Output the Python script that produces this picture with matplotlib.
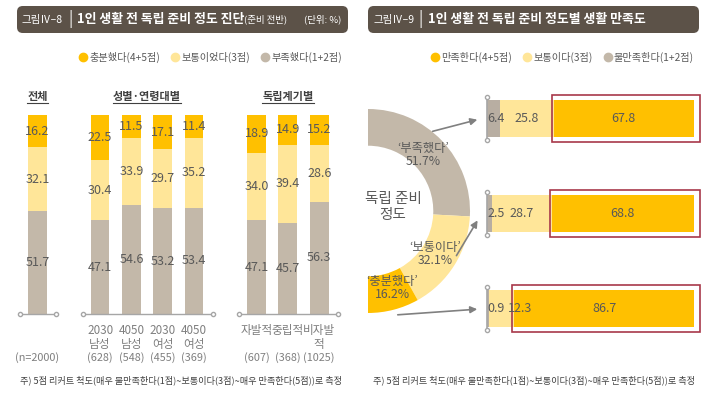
import numpy as np
import matplotlib
matplotlib.use("Agg")
import matplotlib.pyplot as plt
from matplotlib.patches import FancyBboxPatch, Rectangle
from matplotlib.lines import Line2D

plt.rcParams['font.family'] = ['Noto Sans CJK KR', 'DejaVu Sans']

# ---- data: left chart (준비 정도 진단) ----
bar_pos = [0, 2, 3, 4, 5, 7, 8, 9]
bar_cat = ["", "2030\n남성", "4050\n남성", "2030\n여성", "4050\n여성", "자발적", "중립적", "비자발\n적"]
bar_n = ["(n=2000)", "(628)", "(548)", "(455)", "(369)", "(607)", "(368)", "(1025)"]
lack = [51.7, 47.1, 54.6, 53.2, 53.4, 47.1, 45.7, 56.3]      # 부족했다(1+2점)
normal = [32.1, 30.4, 33.9, 29.7, 35.2, 34.0, 39.4, 28.6]    # 보통이었다(3점)
enough = [16.2, 22.5, 11.5, 17.1, 11.4, 18.9, 14.9, 15.2]    # 충분했다(4+5점)
groups = [("전체", [0]), ("성별·연령대별", [2, 3, 4, 5]), ("독립계기별", [7, 8, 9])]

# ---- data: right chart (준비 정도별 생활 만족도) ----
donut_lab = ["‘부족했다’", "‘보통이다’", "‘충분했다’"]
donut_val = [51.7, 32.1, 16.2]
sat_bad = [6.4, 2.5, 0.9]       # 불만족한다(1+2점)
sat_mid = [25.8, 28.7, 12.3]    # 보통이다(3점)
sat_good = [67.8, 68.8, 86.7]   # 만족한다(4+5점)

ORANGE = "#FFC000"
LIGHT = "#FFE699"
GRAY = "#C3B8A9"
TXT = "#595959"
W, H = 720, 398

fig = plt.figure(figsize=(7.2, 3.98), dpi=100)


def fx(px):
    return px / W


def fy(py):
    return 1 - py / H


# ---- title boxes ----
def title_box(x0, x1, main, extra=None, unit=None):
    box = FancyBboxPatch((fx(x0), fy(33)), fx(x1 - x0), 27 / H,
                         boxstyle="round,pad=0,rounding_size=0.008",
                         mutation_aspect=W / H, transform=fig.transFigure,
                         fc="#5C5248", ec="none")
    fig.patches.append(box)
    yc = fy(19.5)
    fig.text(fx(x0 + 5), yc, main[0], color="white", fontsize=7.5, ha="left", va="center")
    fig.text(fx(x0 + 53), yc, "|", color="white", fontsize=11, ha="center", va="center")
    t = fig.text(fx(x0 + 60), yc, main[1], color="white", fontsize=9.3,
                 fontweight="bold", ha="left", va="center")
    if extra:
        fig.canvas.draw()
        bb = t.get_window_extent(renderer=fig.canvas.get_renderer())
        fig.text(bb.x1 / W, yc, extra, color="white", fontsize=6.8, ha="left", va="center")
    if unit:
        fig.text(fx(x1 - 7), yc, unit, color="white", fontsize=6.8, ha="right", va="center")


title_box(17, 348, ("그림Ⅳ–8", "1인 생활 전 독립 준비 정도 진단"), "(준비 전반)", "(단위: %)")
title_box(368, 699, ("그림Ⅳ–9", "1인 생활 전 독립 준비 정도별 생활 만족도"))

# ---- legends ----
def legend(labels, cx):
    hs = [Line2D([], [], marker="o", ls="", color=c, markersize=6)
          for c in [ORANGE, LIGHT, GRAY]]
    fig.legend(hs, labels, loc="center", bbox_to_anchor=(fx(cx), fy(57)), ncol=3,
               frameon=False, fontsize=7.3, handletextpad=0.1, columnspacing=1.0,
               handlelength=1.0, labelcolor=TXT)


legend(["충분했다(4+5점)", "보통이었다(3점)", "부족했다(1+2점)"], 210)
legend(["만족한다(4+5점)", "보통이다(3점)", "불만족한다(1+2점)"], 562)

# ---- left stacked bars ----
ax1 = fig.add_axes([0, fy(314), fx(360), (314 - 115) / H])
ax1.set_xlim(-1.198, 10.304)
ax1.set_ylim(0, 100)
ax1.axis("off")
bw = 0.6
lack = np.array(lack)
normal = np.array(normal)
enough = np.array(enough)
ax1.bar(bar_pos, lack, bw, color=GRAY)
ax1.bar(bar_pos, normal, bw, bottom=lack, color=LIGHT)
ax1.bar(bar_pos, enough, bw, bottom=lack + normal, color=ORANGE)
for p, a, b, c in zip(bar_pos, lack, normal, enough):
    ax1.text(p, a / 2, f"{a:.1f}", ha="center", va="center", fontsize=9, color=TXT)
    ax1.text(p, a + b / 2, f"{b:.1f}", ha="center", va="center", fontsize=9, color=TXT)
    ax1.text(p, a + b + c / 2, f"{c:.1f}", ha="center", va="center", fontsize=9, color=TXT)
for p, cat, n in zip(bar_pos, bar_cat, bar_n):
    ax1.text(p, -5, cat, ha="center", va="top", fontsize=8.4, color="#7F7F7F",
             linespacing=1.1, clip_on=False)
    ax1.text(p, -21.8, n, ha="center", va="center", fontsize=7.8, color="#7F7F7F",
             clip_on=False)

fig.canvas.draw()
r = fig.canvas.get_renderer()
for name, ps in groups:
    lo, hi = min(ps) - 0.55, max(ps) + 0.6
    ax1.plot([lo, hi], [0, 0], color="#A6A6A6", lw=1, marker="o", ms=3,
             mfc="white", mec="#A6A6A6", clip_on=False)
    t = ax1.text(np.mean(ps), 109.5, name, ha="center", va="center", fontsize=8,
                 fontweight="bold", color="#404040", clip_on=False)
    bb = t.get_window_extent(renderer=r).transformed(fig.transFigure.inverted())
    fig.lines.append(Line2D([bb.x0, bb.x1], [bb.y0 - 0.002, bb.y0 - 0.002],
                            color="#404040", lw=0.8, transform=fig.transFigure))

# ---- right horizontal stacked bars ----
ax2 = fig.add_axes([fx(487), fy(340), fx(694 - 487), 250 / H])
ax2.set_xlim(0, 100)
ax2.set_ylim(2.332, -0.3)
ax2.axis("off")
ys = np.arange(3)
bh = 0.39
sat_bad = np.array(sat_bad)
sat_mid = np.array(sat_mid)
sat_good = np.array(sat_good)
ax2.barh(ys, sat_bad, bh, color="#B8AEA2")
ax2.barh(ys, sat_mid, bh, left=sat_bad, color=LIGHT)
ax2.barh(ys, sat_good, bh, left=sat_bad + sat_mid, color=ORANGE)
for y, a, b, c in zip(ys, sat_bad, sat_mid, sat_good):
    ax2.text(0.3, y, f"{a:.1f}", ha="left", va="center", fontsize=9, color=TXT)
    xm = a + b / 2 if b > 20 else a + 15
    ax2.text(xm, y, f"{b:.1f}", ha="center", va="center", fontsize=9, color=TXT)
    ax2.text(a + b + c / 2, y, f"{c:.1f}", ha="center", va="center", fontsize=9, color=TXT)
    ax2.plot([0, 0], [y - 0.23, y + 0.23], color="#A6A6A6", lw=1.2, marker="o",
             ms=3, mfc="white", mec="#A6A6A6", clip_on=False)
    st = a + b - 1.0
    ax2.add_patch(Rectangle((st, y - 0.25), 102.9 - st, 0.5, fill=False,
                            ec="#A8384A", lw=1.2, clip_on=False))

# ---- donut ----
R = 102
ax3 = fig.add_axes([fx(368 - R), fy(211 + R), fx(2 * R), 2 * R / H])
ax3.pie(donut_val + [sum(donut_val)], colors=[GRAY, LIGHT, ORANGE, "none"],
        startangle=90, counterclock=False, radius=1,
        wedgeprops=dict(width=0.36, edgecolor="none"))
ax3.set_xlim(-1, 1)
ax3.set_ylim(-1, 1)
ax3.set_aspect("equal")
ax3.axis("off")

fig.text(fx(393), fy(207), "독립 준비\n정도", ha="center", va="center",
         fontsize=10.5, color=TXT, linespacing=1.1)
for lab, v, (px, py) in zip(donut_lab, donut_val, [(423, 155), (435, 254), (392, 288)]):
    fig.text(fx(px), fy(py), f"{lab}\n{v:.1f}%", ha="center", va="center",
             fontsize=8.8, color=TXT, linespacing=1.05)

# ---- arrows ----
for (x0, y0), (x1, y1) in [((430, 132), (480, 119)), ((455, 258), (479, 218)),
                           ((395, 315), (480, 309))]:
    fig.add_artist(matplotlib.patches.FancyArrowPatch(
        (fx(x0), fy(y0)), (fx(x1), fy(y1)), transform=fig.transFigure,
        arrowstyle="-|>", mutation_scale=10, color="#808080", lw=1.2))

# ---- footnotes ----
note = "주) 5점 리커트 척도(매우 불만족한다(1점)~보통이다(3점)~매우 만족한다(5점))로 측정"
fig.text(fx(181), fy(380), note, ha="center", va="center", fontsize=6.6, color="#404040")
fig.text(fx(534), fy(380), note, ha="center", va="center", fontsize=6.6, color="#404040")

fig.savefig("out.png", dpi=100, facecolor="white")
